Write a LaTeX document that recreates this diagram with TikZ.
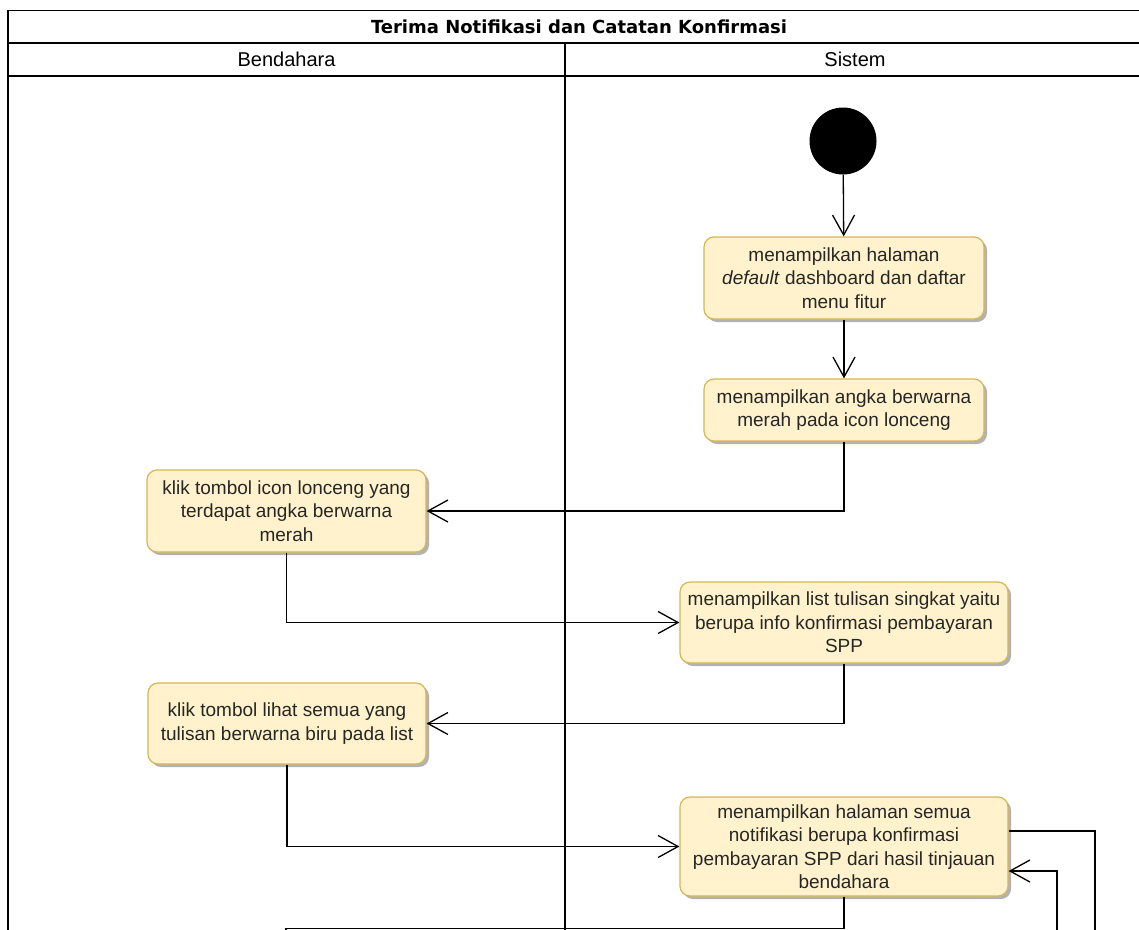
\documentclass[tikz,border=0pt]{standalone}
\usepackage{fontspec}
\setmainfont{Liberation Sans}
\newfontfamily\titlefont{DejaVu Sans}
\usetikzlibrary{arrows.meta,shadows}
\definecolor{boxfill}{HTML}{FFF2CC}
\definecolor{boxdraw}{HTML}{D6B656}
\begin{document}
\begin{tikzpicture}[x=1pt,y=-1pt,
  actbox/.style={draw=boxdraw, fill=boxfill, rounded corners=10pt, line width=1.2pt,
    align=center, inner sep=0pt, text=black!85,
    font=\fontsize{19}{23.5}\selectfont,
    drop shadow={shadow xshift=3pt, shadow yshift=-3pt, opacity=0.3, fill=black}},
  flow/.style={draw=black, line width=1.3pt,
    -{Straight Barb[length=20pt,width=22pt,line width=1.3pt]}},
  link/.style={draw=black, line width=1.3pt},
  frameline/.style={draw=black, line width=1.4pt},
  startnode/.style={circle, fill=black, minimum size=67pt, inner sep=0pt}]
\useasboundingbox (0,0) rectangle (1139,929);
\clip (0,0) rectangle (1139,929);

% frame
\draw[frameline] (8,980) -- (8,10.7) -- (1170,10.7);
\draw[frameline] (8,43) -- (1170,43);
\draw[frameline] (8,76) -- (1170,76);
\draw[frameline] (565,43) -- (565,980);

\node[font={\titlefont\bfseries\fontsize{18}{20}\selectfont}] (title) at (579,27) {Terima Notifikasi dan Catatan Konfirmasi};
\node[font=\fontsize{20}{22}\selectfont] (hb) at (286.5,59.5) {Bendahara};
\node[font=\fontsize{20}{22}\selectfont] (hs) at (855,59.5) {Sistem};

% nodes
\node[startnode] (start) at (843,141) {};
\node[actbox, minimum width=280pt, minimum height=82pt] (b1) at (844,278)
  {menampilkan halaman\\\textit{default} dashboard dan daftar\\menu fitur};
\node[actbox, minimum width=280pt, minimum height=62pt] (b2) at (844,410)
  {menampilkan angka berwarna\\merah pada icon lonceng};
\node[actbox, minimum width=279pt, minimum height=82pt] (b3) at (286.5,511)
  {klik tombol icon lonceng yang\\terdapat angka berwarna\\merah};
\node[actbox, minimum width=328pt, minimum height=81pt] (b4) at (844,622.5)
  {menampilkan list tulisan singkat yaitu\\berupa info konfirmasi pembayaran\\SPP};
\node[actbox, minimum width=278pt, minimum height=81pt] (b5) at (287,723.5)
  {klik tombol lihat semua yang\\tulisan berwarna biru pada list};
\node[actbox, minimum width=328pt, minimum height=99pt] (b6) at (844,846.5)
  {menampilkan halaman semua\\notifikasi berupa konfirmasi\\pembayaran SPP dari hasil tinjauan\\bendahara};

\coordinate (e1) at (1095,980);
\coordinate (e2) at (1057,980);
\coordinate (e3) at (286,980);

% connectors
\draw[flow] (start) -- (b1);
\draw[flow] (b1) -- (b2);
\draw[flow] (b2.south) |- (b3.east);
\draw[flow] (b3.south) |- (b4.west);
\draw[flow] (b4.south) |- (b5.east);
\draw[flow] (b5.south) |- (b6.west);
\draw[link] ([yshift=15.5pt]b6.east) -| (e1);
\draw[flow] (e2) |- ([yshift=-24.5pt]b6.east);
\draw[link] (b6.south) -- ++(0,32) -| (e3);
\end{tikzpicture}
\end{document}
